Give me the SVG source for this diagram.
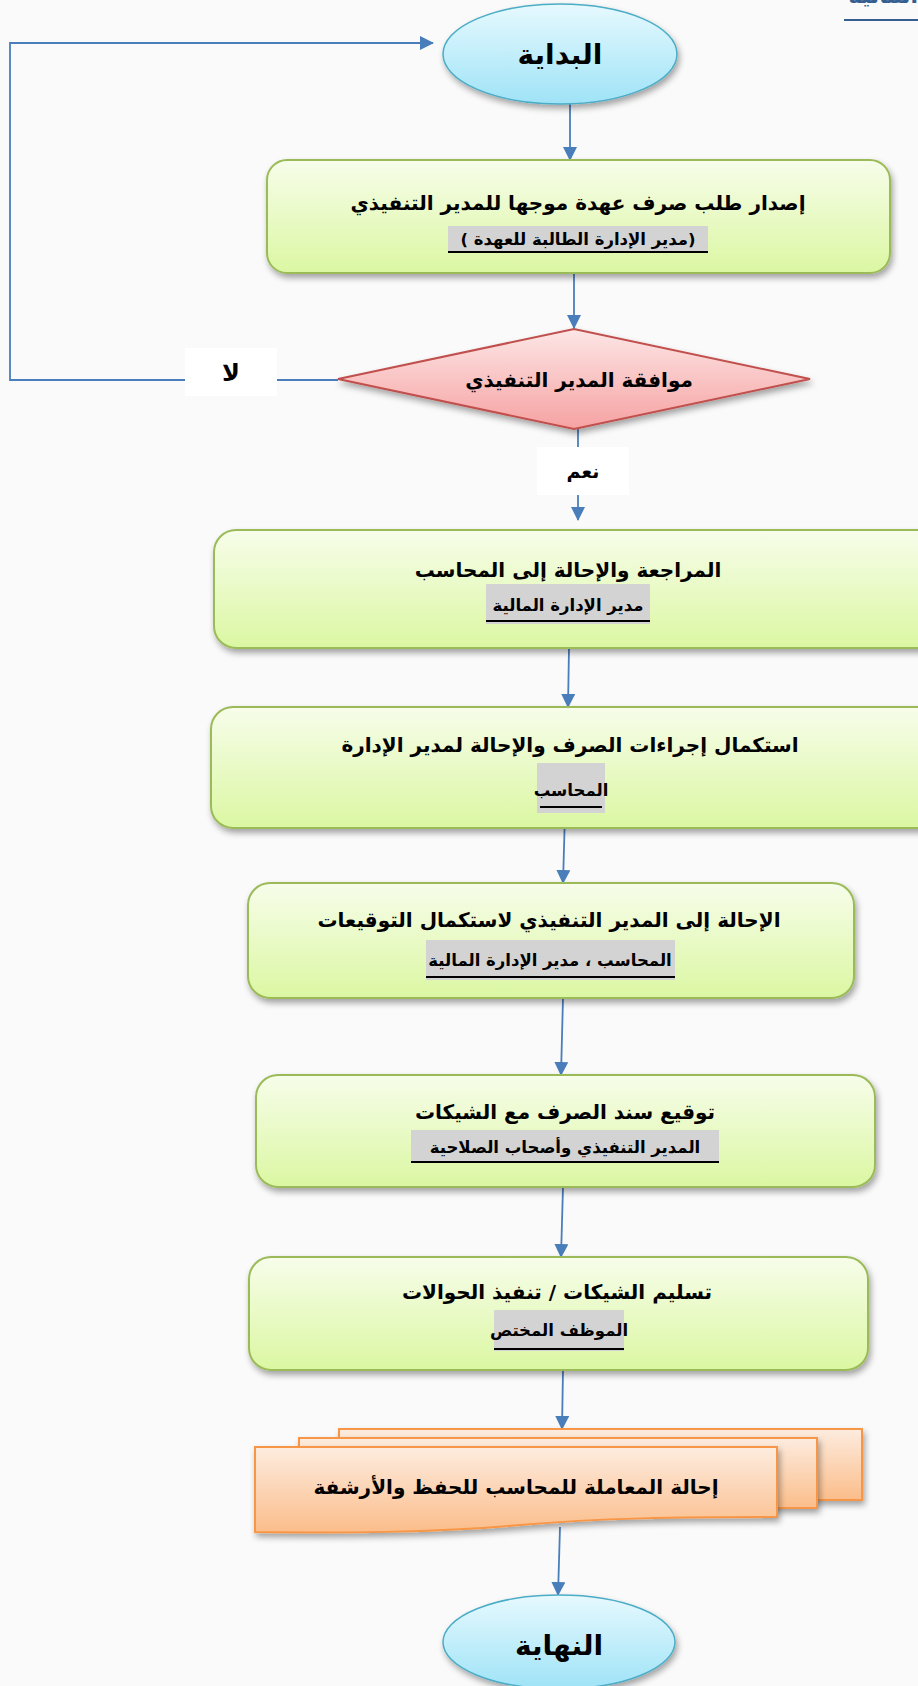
<svg xmlns="http://www.w3.org/2000/svg" width="918" height="1686" viewBox="0 0 918 1686">
<defs>
<linearGradient id="gEll" x1="0" y1="0" x2="0" y2="1"><stop offset="0" stop-color="#e6f9fe"/><stop offset="1" stop-color="#9fe3f7"/></linearGradient>
<linearGradient id="gBox" x1="0" y1="0" x2="0" y2="1"><stop offset="0" stop-color="#f7fdea"/><stop offset="1" stop-color="#dbf7a2"/></linearGradient>
<linearGradient id="gDia" x1="0" y1="0" x2="0" y2="1"><stop offset="0" stop-color="#fde6e6"/><stop offset="1" stop-color="#f6a2a2"/></linearGradient>
<linearGradient id="gDoc" x1="0" y1="0" x2="0" y2="1"><stop offset="0" stop-color="#fdecdf"/><stop offset="1" stop-color="#fbbd8a"/></linearGradient>
<filter id="sh" x="-10%" y="-10%" width="125%" height="140%"><feDropShadow dx="2" dy="4" stdDeviation="3" flood-color="#000" flood-opacity="0.35"/></filter>
<marker id="arr" markerUnits="userSpaceOnUse" markerWidth="14" markerHeight="14" refX="13" refY="7" orient="auto"><path d="M0,0 L14,7 L0,14 z" fill="#4a7ebb"/></marker>
<style>
.ell{fill:url(#gEll);stroke:#4bacc6;stroke-width:1.5;filter:url(#sh)}
.box{fill:url(#gBox);stroke:#9bbb59;stroke-width:2;filter:url(#sh)}
.dia{fill:url(#gDia);stroke:#c0504d;stroke-width:2;filter:url(#sh)}
.doc{fill:url(#gDoc);stroke:#f79646;stroke-width:2;filter:url(#sh)}
.con{fill:none;stroke:#4a7ebb;stroke-width:1.8}
.lbl{fill:#ffffff}
.gray{fill:#d3d3d3}
.ul{stroke:#000;stroke-width:2}
text{font-family:"DejaVu Sans",sans-serif;font-weight:bold;fill:#000;text-anchor:middle}
.t1{font-size:20px}
.t2{font-size:16.5px}
.te{font-size:28px}
.tl{font-size:24px}
.ty{font-size:19px}
</style>
</defs>
<rect x="0" y="0" width="918" height="1686" fill="#fafafa"/>
<g id="header-fragment">
<text x="918" y="3" direction="rtl" style="text-anchor:start;font-size:22px;fill:#365f91">المالية</text>
<line x1="844" y1="20" x2="918" y2="20" stroke="#365f91" stroke-width="2"/>
</g>
<g id="connectors">
<path class="con" d="M338,380 H10 V43 H433" marker-end="url(#arr)"/>
<path class="con" d="M570,104 V160" marker-end="url(#arr)"/>
<path class="con" d="M574,273 V328" marker-end="url(#arr)"/>
<path class="con" d="M578,429 V520" marker-end="url(#arr)"/>
<path class="con" d="M569,648 L568,707" marker-end="url(#arr)"/>
<path class="con" d="M565,813 L563,883" marker-end="url(#arr)"/>
<path class="con" d="M563,998 L561,1075" marker-end="url(#arr)"/>
<path class="con" d="M563,1187 L561,1257" marker-end="url(#arr)"/>
<path class="con" d="M563,1370 L562,1429" marker-end="url(#arr)"/>
<path class="con" d="M560,1527 L558,1595" marker-end="url(#arr)"/>
</g>
<g id="start">
<ellipse class="ell" cx="560" cy="54" rx="117" ry="50"/>
<text class="te" x="560" y="64" direction="rtl">البداية</text>
</g>
<g id="step1">
<rect class="box" x="267" y="160" width="623" height="113" rx="20"/>
<text class="t1" x="578" y="210" direction="rtl">إصدار طلب صرف عهدة موجها للمدير التنفيذي</text>
<rect class="gray" x="448" y="226" width="260" height="27"/>
<line class="ul" x1="448" y1="252" x2="708" y2="252"/>
<text class="t2" x="578" y="245" direction="rtl">(مدير الإدارة الطالبة للعهدة )</text>
</g>
<g id="decision">
<polygon class="dia" points="338,379 574,329 810,379 574,429"/>
<text class="t1" x="579" y="387" direction="rtl">موافقة المدير التنفيذي</text>
</g>
<g id="label-no">
<rect class="lbl" x="185" y="348" width="92" height="48"/>
<text class="tl" x="231" y="381" direction="rtl">لا</text>
</g>
<g id="label-yes">
<rect class="lbl" x="537" y="447" width="92" height="48"/>
<text class="ty" x="583" y="478" direction="rtl">نعم</text>
</g>
<g id="step2">
<rect class="box" x="214" y="530" width="730" height="118" rx="22"/>
<text class="t1" x="568" y="577" direction="rtl">المراجعة والإحالة إلى المحاسب</text>
<rect class="gray" x="486" y="584" width="164" height="40"/>
<line class="ul" x1="486" y1="621" x2="650" y2="621"/>
<text class="t2" x="568" y="611" direction="rtl">مدير الإدارة المالية</text>
</g>
<g id="step3">
<rect class="box" x="211" y="707" width="740" height="121" rx="22"/>
<text class="t1" x="570" y="752" direction="rtl">استكمال إجراءات الصرف والإحالة لمدير الإدارة</text>
<rect class="gray" x="537" y="763" width="68" height="50"/>
<line class="ul" x1="540" y1="807" x2="602" y2="807"/>
<text class="t2" x="571" y="796" direction="rtl">المحاسب</text>
</g>
<g id="step4">
<rect class="box" x="248" y="883" width="606" height="115" rx="22"/>
<text class="t1" x="549" y="927" direction="rtl">الإحالة إلى المدير التنفيذي لاستكمال التوقيعات</text>
<rect class="gray" x="426" y="940" width="249" height="40"/>
<line class="ul" x1="426" y1="977" x2="675" y2="977"/>
<text class="t2" x="550" y="966" direction="rtl">المحاسب ، مدير الإدارة المالية</text>
</g>
<g id="step5">
<rect class="box" x="256" y="1075" width="619" height="112" rx="22"/>
<text class="t1" x="565" y="1119" direction="rtl">توقيع سند الصرف مع الشيكات</text>
<rect class="gray" x="411" y="1130" width="308" height="33"/>
<line class="ul" x1="411" y1="1162" x2="719" y2="1162"/>
<text class="t2" x="565" y="1153" direction="rtl">المدير التنفيذي وأصحاب الصلاحية</text>
</g>
<g id="step6">
<rect class="box" x="249" y="1257" width="619" height="113" rx="22"/>
<text class="t1" x="557" y="1299" direction="rtl">تسليم الشيكات / تنفيذ الحوالات</text>
<rect class="gray" x="494" y="1310" width="130" height="41"/>
<line class="ul" x1="494" y1="1349" x2="624" y2="1349"/>
<text class="t2" x="559" y="1336" direction="rtl">الموظف المختص</text>
</g>
<g id="archive">
<rect class="doc" x="339" y="1429" width="523" height="71"/>
<rect class="doc" x="299" y="1438" width="518" height="70"/>
<path class="doc" d="M255,1447 H777 V1517 C680,1517 600,1518 520,1525 C430,1533 340,1533 255,1532 Z"/>
<text class="t1" x="516" y="1494" direction="rtl">إحالة المعاملة للمحاسب للحفظ والأرشفة</text>
</g>
<g id="end">
<ellipse class="ell" cx="559" cy="1642" rx="116" ry="47"/>
<text class="te" x="559" y="1655" direction="rtl">النهاية</text>
</g>
</svg>
